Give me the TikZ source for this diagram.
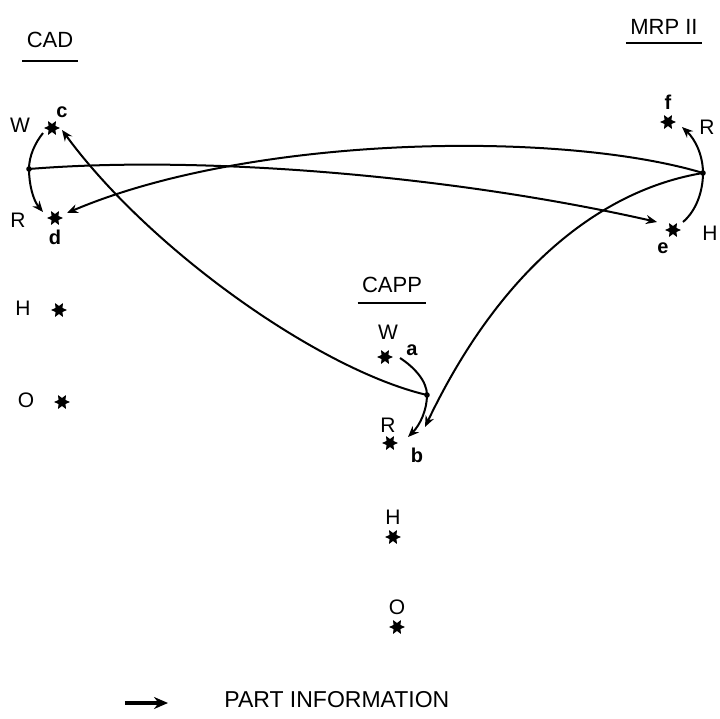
\documentclass[tikz,border=0pt]{standalone}
\usepackage{fontspec}
\setmainfont{Liberation Sans}
\usetikzlibrary{arrows.meta,shapes.geometric}
\tikzset{
  pnt/.style={star, star points=6, star point ratio=0.5, fill=black,
              inner sep=0pt, minimum size=4pt},
  junc/.style={circle, fill=black, inner sep=0pt, minimum size=2.8pt},
  flow/.style={-{Stealth[length=5.5pt,width=4.5pt]}, line width=1pt},
  lbl/.style={font=\fontsize{10.5}{12}\selectfont, inner sep=1pt},
  tag/.style={font=\bfseries\fontsize{10}{12}\selectfont, inner sep=1pt},
  ttl/.style={font=\fontsize{11}{13}\selectfont, inner sep=2pt},
  uline/.style={line width=0.9pt},
}

\begin{document}
\begin{tikzpicture}[x=0.5pt, y=-0.5pt]
\useasboundingbox (0,0) rectangle (720,719);

% titles
\node[ttl] (cad) at (50,40) {CAD};
\node[ttl] (mrp) at (664,27) {MRP II};
\node[ttl] (capp) at (392,285) {CAPP};
\draw[uline] ([yshift=-4.5pt]cad.south west) -- ([yshift=-4.5pt]cad.south east);
\draw[uline] ([yshift=-2pt]mrp.south west) -- ([yshift=-2pt]mrp.south east);
\draw[uline] ([yshift=-3pt]capp.south west) -- ([yshift=-3pt]capp.south east);

% CAD rows
\foreach \i/\t/\lx/\ly/\px/\py in {W/W/20/125/52/128, R/R/18/220/55/218,
                                   H/H/23/308/59/310, O/O/26/400/62/402} {
    \node[lbl] (cad\i l) at (\lx,\ly) {\t};
    \node[pnt] (cad\i) at (\px,\py) {};
}
\node[tag] (c) at (62,112) {c};
\node[tag] (d) at (55,237) {d};
\node[junc] (cadX) at (29,169) {};

% CAPP rows
\foreach \i/\t/\lx/\ly/\px/\py in {W/W/388/332/385/357, R/R/388/425/390/443,
                                   H/H/393/517/393/537, O/O/397/607/397/627} {
    \node[lbl] (capp\i l) at (\lx,\ly) {\t};
    \node[pnt] (capp\i) at (\px,\py) {};
}
\node[tag] (a) at (412,350) {a};
\node[tag] (b) at (417,455) {b};
\node[junc] (cappX) at (427,395) {};

% MRP II rows
\node[lbl] (mrpRl) at (707,127) {R};
\node[pnt] (mrpR) at (668,122) {};
\node[tag] (f) at (668,102) {f};
\node[lbl] (mrpHl) at (710,233) {H};
\node[pnt] (mrpH) at (673,230) {};
\node[tag] (e) at (663,248) {e};
\node[junc] (mrpX) at (703,173) {};

% arrow ends
\coordinate (cadWo) at (43,133);
\coordinate (cadRi) at (43,212);
\coordinate (cappWo) at (400,358);
\coordinate (cappRi) at (408,437);
\coordinate (mrpHo) at (683,222);
\coordinate (mrpRi) at (682,127);
\coordinate (cTip) at (62,130);
\coordinate (dTip) at (67,213);
\coordinate (bTip) at (425,427);
\coordinate (eTip) at (657,222);

% local W -> R
\draw[flow] (cadWo) .. controls (35,143) and (29,156) .. (cadX.center)
  .. controls (29,184) and (33,200) .. (cadRi);
\draw[flow] (cappWo) .. controls (414,367) and (427,381) .. (cappX.center)
  .. controls (427,410) and (420,425) .. (cappRi);
\draw[flow] (mrpHo) .. controls (697,210) and (703,190) .. (mrpX.center)
  .. controls (703,155) and (695,139) .. (mrpRi);

% transfers
\draw[flow] (cadX.center) .. controls (200,155) and (450,175) .. (eTip);
\draw[flow] (mrpX.center) .. controls (560,130) and (250,135) .. (dTip);
\draw[flow] (cappX.center) .. controls (320,370) and (150,250) .. (cTip);
\draw[flow] (mrpX.center) .. controls (600,190) and (500,270) .. (bTip);

% key
\coordinate (keyA) at (125,703);
\coordinate (keyB) at (168,703);
\draw[-{Stealth[length=7pt,width=6pt]}, line width=1.6pt] (keyA) -- (keyB);
\node[ttl, anchor=west, font=\fontsize{11.5}{13}\selectfont] (key) at (220,700)
  {PART INFORMATION};

\end{tikzpicture}
\end{document}
